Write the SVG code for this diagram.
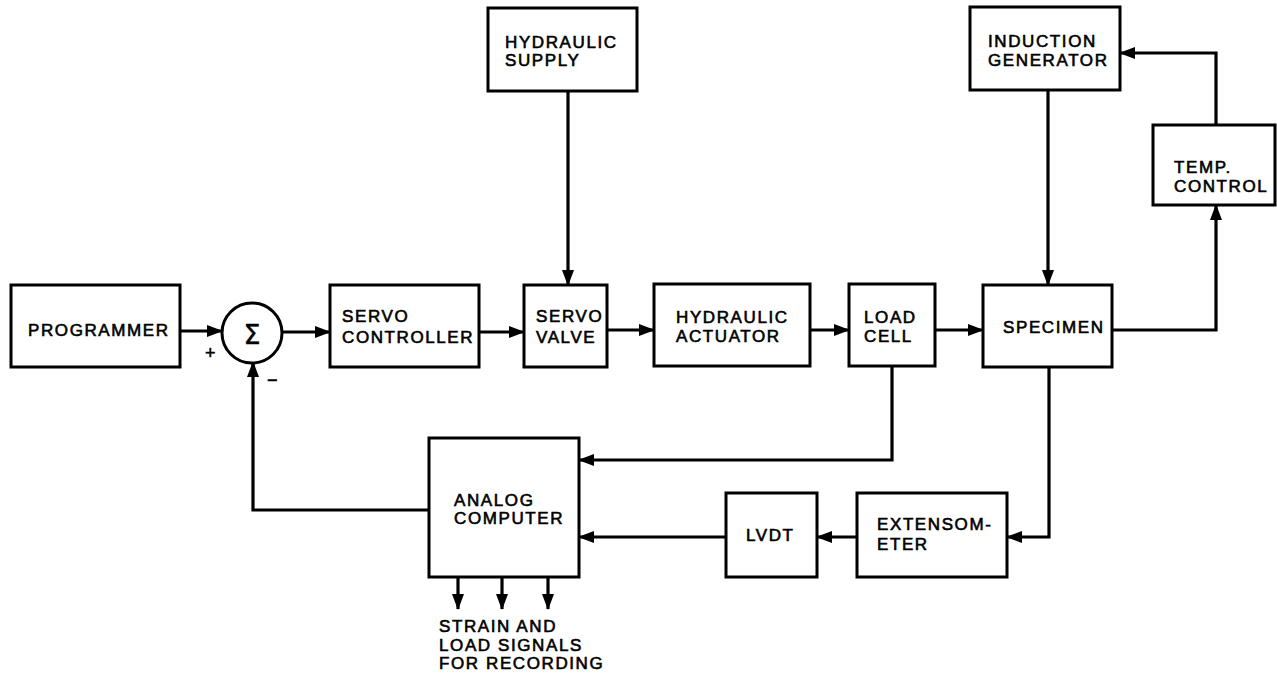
<svg xmlns="http://www.w3.org/2000/svg" width="1277" height="674" viewBox="0 0 1277 674">
<style>
.box{fill:#fff;stroke:#000;stroke-width:3}
.t{font-family:"Liberation Sans",Arial,sans-serif;font-size:17px;letter-spacing:1.6px;fill:#000;stroke:#000;stroke-width:0.6}
.c{fill:none;stroke:#000;stroke-width:3.2;marker-end:url(#arr)}
.s{font-family:"Liberation Sans",Arial,sans-serif;font-size:18px;fill:#000;stroke:#000;stroke-width:0.5}
</style>
<defs>
<marker id="arr" viewBox="0 0 16 12" refX="15" refY="6" markerWidth="16" markerHeight="12" markerUnits="userSpaceOnUse" orient="auto">
<path d="M0,0 L16,6 L0,12 Z" fill="#000"/>
</marker>
</defs>
<rect width="1277" height="674" fill="#fff"/>
<g id="connectors">
<path class="c" d="M180,331 L222,331"/>
<path class="c" d="M282,332 L330,332"/>
<path class="c" d="M479,332 L524,332"/>
<path class="c" d="M607,330 L654,330"/>
<path class="c" d="M810,330 L849,330"/>
<path class="c" d="M935,330 L983,330"/>
<path class="c" d="M568,91 L568,285"/>
<path class="c" d="M1048,90 L1048,285"/>
<path class="c" d="M1112,330 L1216,330 L1216,205"/>
<path class="c" d="M1216,125 L1216,53 L1120,53"/>
<path class="c" d="M892,366 L892,460 L579,460"/>
<path class="c" d="M1049,367 L1049,537 L1007,537"/>
<path class="c" d="M857,537 L817,537"/>
<path class="c" d="M726,537 L579,537"/>
<path class="c" d="M429,510 L253,510 L253,362"/>
<path class="c" d="M458,577 L458,609"/>
<path class="c" d="M502,577 L502,609"/>
<path class="c" d="M548,577 L548,609"/>
</g>
<g id="programmer"><rect class="box" x="11" y="285" width="169" height="82"/><text class="t" x="28" y="336">PROGRAMMER</text></g>
<g id="summer"><circle cx="252" cy="333" r="30" fill="#fff" stroke="#000" stroke-width="3"/><text x="252" y="344" text-anchor="middle" font-family="'DejaVu Sans',sans-serif" font-size="27" stroke="#000" stroke-width="0.4">Σ</text><text class="s" x="205" y="359">+</text><text class="s" x="267" y="386">−</text></g>
<g id="servo-controller"><rect class="box" x="330" y="285" width="149" height="82"/><text class="t" x="342" y="322">SERVO</text><text class="t" x="342" y="343">CONTROLLER</text></g>
<g id="hydraulic-supply"><rect class="box" x="488" y="8" width="149" height="83"/><text class="t" x="505" y="48">HYDRAULIC</text><text class="t" x="505" y="66">SUPPLY</text></g>
<g id="servo-valve"><rect class="box" x="524" y="285" width="83" height="82"/><text class="t" x="536" y="322">SERVO</text><text class="t" x="536" y="343">VALVE</text></g>
<g id="hydraulic-actuator"><rect class="box" x="654" y="284" width="156" height="82"/><text class="t" x="676" y="323">HYDRAULIC</text><text class="t" x="676" y="342">ACTUATOR</text></g>
<g id="load-cell"><rect class="box" x="849" y="284" width="86" height="82"/><text class="t" x="864" y="323">LOAD</text><text class="t" x="864" y="342">CELL</text></g>
<g id="specimen"><rect class="box" x="983" y="285" width="129" height="82"/><text class="t" x="1003" y="333">SPECIMEN</text></g>
<g id="induction-generator"><rect class="box" x="970" y="7" width="150" height="83"/><text class="t" x="988" y="47">INDUCTION</text><text class="t" x="988" y="66">GENERATOR</text></g>
<g id="temp-control"><rect class="box" x="1153" y="125" width="122" height="80"/><text class="t" x="1174" y="173">TEMP.</text><text class="t" x="1174" y="192">CONTROL</text></g>
<g id="analog-computer"><rect class="box" x="429" y="438" width="150" height="139"/><text class="t" x="454" y="506">ANALOG</text><text class="t" x="454" y="524">COMPUTER</text></g>
<g id="lvdt"><rect class="box" x="726" y="493" width="91" height="84"/><text class="t" x="746" y="541">LVDT</text></g>
<g id="extensometer"><rect class="box" x="857" y="493" width="150" height="84"/><text class="t" x="877" y="530">EXTENSOM-</text><text class="t" x="877" y="550">ETER</text></g>
<g id="recording-label"><text class="t" x="439" y="632">STRAIN AND</text><text class="t" x="439" y="651">LOAD SIGNALS</text><text class="t" x="439" y="669">FOR RECORDING</text></g>
</svg>
